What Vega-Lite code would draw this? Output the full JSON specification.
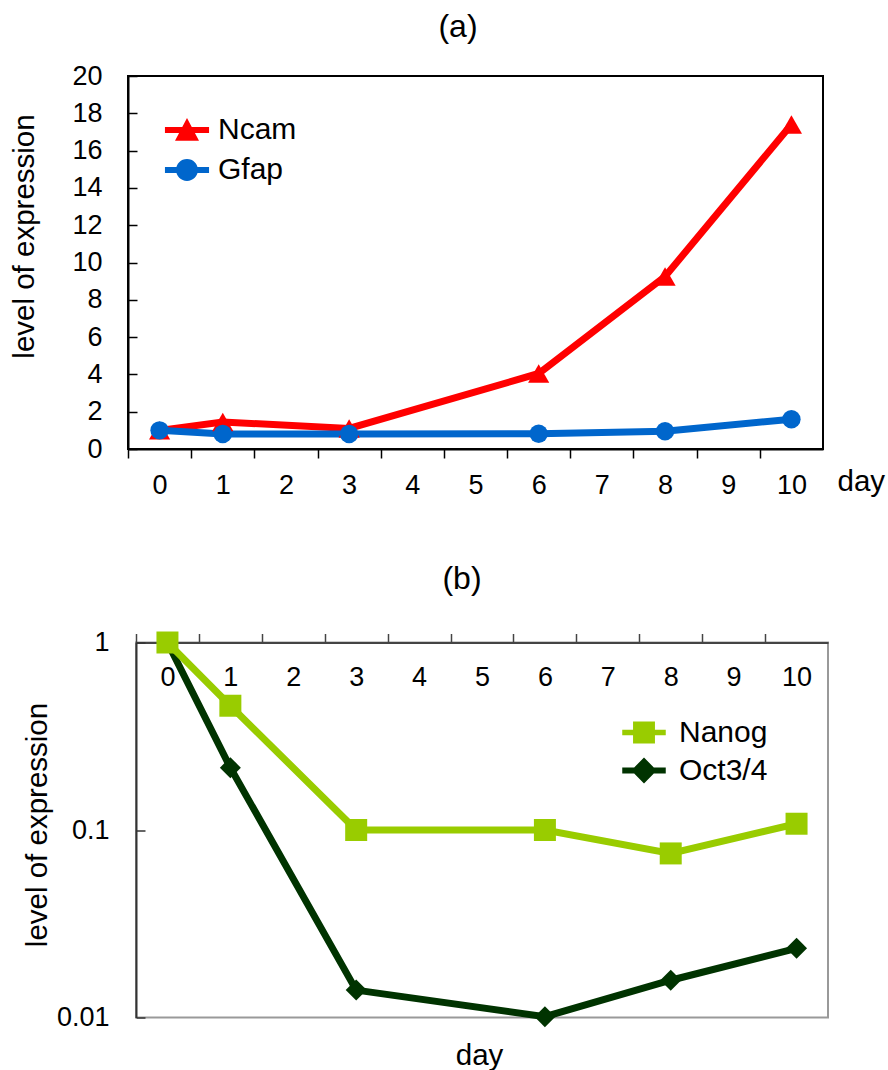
{
  "$schema": "https://vega.github.io/schema/vega-lite/v6.json",
  "padding": {"left": 8, "top": 9, "right": 0, "bottom": 0},
  "background": "white",
  "config": {
    "font": "Liberation Sans",
    "view": {"stroke": null},
    "axis": {"grid": false, "labelFont": "Liberation Sans", "titleFont": "Liberation Sans", "labelColor": "#000", "titleColor": "#000", "titleFontWeight": "normal", "labelFontSize": 27, "titleFontSize": 29.5, "labelFlush": false, "labelOverlap": false},
    "legend": {"labelFont": "Liberation Sans", "labelFontSize": 30, "labelColor": "#000", "padding": 0, "symbolSize": 900, "rowPadding": 10, "labelOffset": 16},
    "title": {"font": "Liberation Sans", "fontSize": 32, "fontWeight": "normal", "color": "#000", "frame": "group"}
  },
  "datasets": {
    "a": [
      {"series": "Ncam", "day": 0, "value": 1.0},
      {"series": "Ncam", "day": 1, "value": 1.45},
      {"series": "Ncam", "day": 3, "value": 1.1},
      {"series": "Ncam", "day": 6, "value": 4.05},
      {"series": "Ncam", "day": 8, "value": 9.25},
      {"series": "Ncam", "day": 10, "value": 17.4},
      {"series": "Gfap", "day": 0, "value": 1.0},
      {"series": "Gfap", "day": 1, "value": 0.8},
      {"series": "Gfap", "day": 3, "value": 0.8},
      {"series": "Gfap", "day": 6, "value": 0.82},
      {"series": "Gfap", "day": 8, "value": 0.95},
      {"series": "Gfap", "day": 10, "value": 1.6}
    ],
    "b": [
      {"series": "Oct3/4", "day": 0, "value": 1.0},
      {"series": "Oct3/4", "day": 1, "value": 0.215},
      {"series": "Oct3/4", "day": 3, "value": 0.014},
      {"series": "Oct3/4", "day": 6, "value": 0.0101},
      {"series": "Oct3/4", "day": 8, "value": 0.0158},
      {"series": "Oct3/4", "day": 10, "value": 0.0234},
      {"series": "Nanog", "day": 0, "value": 1.0},
      {"series": "Nanog", "day": 1, "value": 0.46},
      {"series": "Nanog", "day": 3, "value": 0.1},
      {"series": "Nanog", "day": 6, "value": 0.1},
      {"series": "Nanog", "day": 8, "value": 0.075},
      {"series": "Nanog", "day": 10, "value": 0.108}
    ]
  },
  "resolve": {"scale": {"color": "independent"}, "legend": {"color": "independent"}},
  "align": "none",
  "spacing": 62.5,
  "vconcat": [
    {
      "title": {"text": "(a)", "dx": -17.5, "offset": 18.5},
      "width": 695,
      "height": 373,
      "view": {"stroke": "#000", "strokeWidth": 2},
      "data": {"name": "a"},
      "encoding": {
        "x": {"field": "day", "type": "quantitative", "scale": {"domain": [-0.5, 10.5], "nice": false, "zero": false},
          "axis": {"values": [0, 1, 2, 3, 4, 5, 6, 7, 8, 9, 10, 11], "labelExpr": "datum.value > 10 ? '' : datum.label", "tickOffset": -31.6, "labelOffset": 31.6, "tickSize": 9, "tickColor": "#000", "tickWidth": 1.5, "domainColor": "#000", "domainWidth": 2, "labelPadding": 14, "title": "day", "titleX": 709, "titleY": 32, "titleAlign": "left", "titleBaseline": "middle", "titleAngle": 0}},
        "y": {"field": "value", "type": "quantitative", "scale": {"domain": [0, 20], "nice": false},
          "axis": {"values": [0, 2, 4, 6, 8, 10, 12, 14, 16, 18, 20], "tickSize": -9, "tickColor": "#000", "tickWidth": 1.5, "domainColor": "#000", "domainWidth": 2, "labelPadding": 35, "title": "level of expression", "titleX": -104, "titleY": 160, "titleAngle": -90, "titleAlign": "center", "titleBaseline": "middle"}}
      },
      "layer": [
        {
          "mark": {"type": "line", "strokeWidth": 7, "strokeJoin": "miter"},
          "encoding": {
            "color": {"field": "series", "type": "nominal", "scale": {"domain": ["Ncam", "Gfap"], "range": ["#ff0000", "#0066cc"]},
              "legend": {"orient": "none", "legendX": 44, "legendY": 39, "title": null,
                "encode": {"symbols": {"update": {
                  "shape": {"signal": "datum.value === 'Ncam' ? 'M-1.47,-0.2L1.47,-0.2L1.47,0.2L-1.47,0.2Z M0,-0.8L0.8,0.72L-0.8,0.72Z' : 'M-1.47,-0.2L1.47,-0.2L1.47,0.2L-1.47,0.2Z M-0.73,0A0.73,0.73 0 1,1 0.73,0A0.73,0.73 0 1,1 -0.73,0Z'"},
                  "fill": {"signal": "datum.value === 'Ncam' ? '#ff0000' : '#0066cc'"},
                  "strokeWidth": {"value": 0},
                  "opacity": {"value": 1}
                }}}}}
          }
        },
        {
          "transform": [{"filter": "datum.series === 'Ncam'"}],
          "mark": {"type": "point", "filled": true, "opacity": 1, "shape": "triangle-up", "size": 450, "color": "#ff0000"}
        },
        {
          "transform": [{"filter": "datum.series === 'Gfap'"}],
          "mark": {"type": "point", "filled": true, "opacity": 1, "shape": "circle", "size": 340, "color": "#0066cc"}
        }
      ]
    },
    {
      "spacing": -120,
      "hconcat": [
        {
          "width": 8,
          "height": 10,
          "data": {"values": [{"s": 0}]},
          "mark": {"type": "point", "opacity": 0},
          "encoding": {}
        },
        {
          "title": {"text": "(b)", "dx": -20, "offset": 32.5},
          "width": 692,
          "height": 375,
          "view": {"stroke": "#999", "strokeWidth": 2},
          "data": {"name": "b"},
          "encoding": {
            "x": {"field": "day", "type": "quantitative", "scale": {"domain": [-0.5, 10.5], "nice": false, "zero": false},
              "axis": {"orient": "top", "values": [0, 1, 2, 3, 4, 5, 6, 7, 8, 9, 10, 11], "labelExpr": "datum.value > 10 ? '' : datum.label", "tickOffset": -31.45, "labelOffset": 31.45, "tickSize": 9, "tickColor": "#444", "tickWidth": 1.5, "domainColor": "#444", "domainWidth": 2, "labelPadding": -58, "title": "day", "titleX": 343, "titleY": 413, "titleAlign": "center", "titleBaseline": "middle", "titleAngle": 0}},
            "y": {"field": "value", "type": "quantitative", "scale": {"type": "log", "domain": [0.01, 1], "nice": false},
              "axis": {"values": [0.01, 0.1, 1], "format": "~g", "tickSize": -9, "tickColor": "#333", "tickWidth": 1.5, "domainColor": "#333", "domainWidth": 2, "labelPadding": 36, "title": "level of expression", "titleX": -99, "titleY": 182, "titleAngle": -90, "titleAlign": "center", "titleBaseline": "middle"}}
          },
          "layer": [
            {
              "mark": {"type": "line", "strokeWidth": 7, "strokeJoin": "miter"},
              "encoding": {
                "color": {"field": "series", "type": "nominal", "scale": {"domain": ["Oct3/4", "Nanog"], "range": ["#003300", "#99cc00"]},
                  "legend": {"orient": "none", "legendX": 501, "legendY": 75, "title": null, "rowPadding": 8, "labelOffset": 20, "values": ["Nanog", "Oct3/4"],
                    "encode": {"symbols": {"update": {
                      "shape": {"signal": "datum.value === 'Nanog' ? 'M-1.45,-0.18L1.45,-0.18L1.45,0.18L-1.45,0.18Z M-0.73,-0.73L0.73,-0.73L0.73,0.73L-0.73,0.73Z' : 'M-1.45,-0.2L1.45,-0.2L1.45,0.2L-1.45,0.2Z M0,-0.87L0.85,0L0,0.87L-0.85,0Z'"},
                      "fill": {"signal": "datum.value === 'Nanog' ? '#99cc00' : '#003300'"},
                      "strokeWidth": {"value": 0},
                      "opacity": {"value": 1}
                    }}}}}
              }
            },
            {
              "transform": [{"filter": "datum.series === 'Oct3/4'"}],
              "mark": {"type": "point", "filled": true, "opacity": 1, "shape": "diamond", "size": 440, "color": "#003300"}
            },
            {
              "transform": [{"filter": "datum.series === 'Nanog'"}],
              "mark": {"type": "point", "filled": true, "opacity": 1, "shape": "square", "size": 484, "color": "#99cc00"}
            }
          ]
        }
      ]
    }
  ]
}
